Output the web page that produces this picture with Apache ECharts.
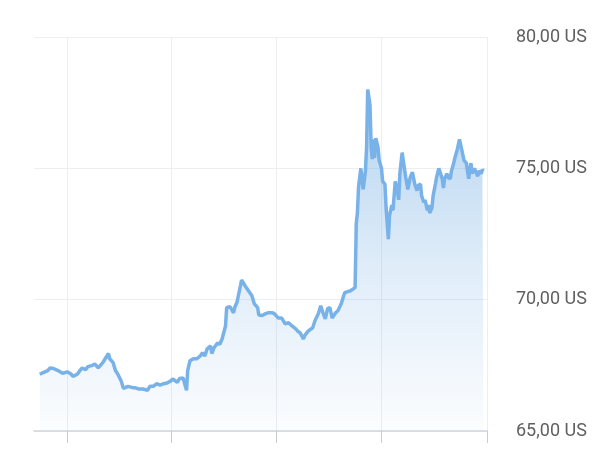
<!DOCTYPE html>
<html>
<head>
<meta charset="utf-8">
<script src="https://cdn.jsdelivr.net/npm/echarts@6/dist/echarts.min.js"></script>
<style>html,body{margin:0;padding:0;background:#fff}#c{width:600px;height:450px}</style>
</head>
<body>
<div id="c"></div>
<script>
const dates = [
'2023-12-08','2023-12-11','2023-12-15','2023-12-17','2023-12-20','2023-12-23','2023-12-26','2023-12-28',
'2024-01-01','2024-01-04','2024-01-06','2024-01-10','2024-01-12','2024-01-14','2024-01-17','2024-01-19','2024-01-23','2024-01-25','2024-01-28',
'2024-02-01','2024-02-03','2024-02-06','2024-02-07','2024-02-10','2024-02-12','2024-02-14','2024-02-17','2024-02-19','2024-02-20','2024-02-23','2024-02-27','2024-02-29',
'2024-03-03','2024-03-07','2024-03-11','2024-03-13','2024-03-16','2024-03-19','2024-03-22','2024-03-25','2024-03-28','2024-03-31',
'2024-04-02','2024-04-06','2024-04-08','2024-04-11','2024-04-14','2024-04-15','2024-04-17','2024-04-20','2024-04-23','2024-04-26','2024-04-28','2024-04-30',
'2024-05-02','2024-05-05','2024-05-06','2024-05-08','2024-05-11','2024-05-13','2024-05-15','2024-05-18','2024-05-19','2024-05-22','2024-05-25','2024-05-26','2024-05-28','2024-05-31',
'2024-06-01','2024-06-04','2024-06-07','2024-06-10','2024-06-12','2024-06-15','2024-06-16','2024-06-19','2024-06-22','2024-06-24','2024-06-28','2024-06-30',
'2024-07-03','2024-07-06','2024-07-09','2024-07-12','2024-07-15','2024-07-18','2024-07-20','2024-07-22','2024-07-25','2024-07-26','2024-07-29',
'2024-08-02','2024-08-04','2024-08-07','2024-08-09','2024-08-11','2024-08-13','2024-08-15','2024-08-17','2024-08-19','2024-08-22','2024-08-24','2024-08-27','2024-08-29','2024-08-30',
'2024-09-04','2024-09-08','2024-09-09','2024-09-10','2024-09-11','2024-09-13','2024-09-15','2024-09-17','2024-09-18','2024-09-19','2024-09-21','2024-09-22','2024-09-23','2024-09-24','2024-09-25','2024-09-26','2024-09-28','2024-09-29',
'2024-10-01','2024-10-02','2024-10-04','2024-10-05','2024-10-07','2024-10-08','2024-10-10','2024-10-11','2024-10-13','2024-10-15','2024-10-16','2024-10-17','2024-10-19','2024-10-20','2024-10-22','2024-10-23','2024-10-24','2024-10-26','2024-10-28','2024-10-29','2024-10-30',
'2024-11-01','2024-11-02','2024-11-04','2024-11-05','2024-11-07','2024-11-08','2024-11-10','2024-11-11','2024-11-12','2024-11-14','2024-11-15','2024-11-17','2024-11-18','2024-11-20','2024-11-21','2024-11-23','2024-11-24','2024-11-25','2024-11-27','2024-11-28','2024-11-30',
'2024-12-01','2024-12-03','2024-12-04','2024-12-06','2024-12-08','2024-12-09','2024-12-11','2024-12-12','2024-12-14','2024-12-15','2024-12-16','2024-12-18','2024-12-19','2024-12-21','2024-12-22','2024-12-24','2024-12-25','2024-12-27','2024-12-28','2024-12-29'
];
const prices = [
67.16,67.22,67.30,67.40,67.38,67.32,67.25,67.20,
67.25,67.18,67.08,67.17,67.30,67.40,67.33,67.45,67.50,67.55,67.40,
67.60,67.75,67.95,67.75,67.60,67.30,67.17,66.90,66.62,66.60,66.70,66.65,66.65,
66.60,66.60,66.55,66.70,66.70,66.80,66.75,66.80,66.83,66.90,
66.98,66.85,67.00,67.02,66.55,67.30,67.67,67.75,67.75,67.86,67.98,67.86,
68.13,68.24,67.95,68.17,68.35,68.30,68.50,69.00,69.70,69.73,69.50,69.70,69.90,70.53,
70.75,70.53,70.34,70.15,69.85,69.70,69.42,69.40,69.47,69.50,69.50,69.45,
69.30,69.30,69.08,69.12,69.00,68.90,68.80,68.74,68.50,68.63,68.80,
68.93,69.20,69.47,69.77,69.50,69.27,69.66,69.70,69.30,69.50,69.58,69.85,70.15,70.27,
70.34,70.46,72.90,73.30,74.30,75.00,74.20,74.90,75.80,78.00,77.40,75.80,75.35,76.10,75.40,76.15,75.80,75.30,
75.00,74.50,74.40,73.50,72.30,73.20,73.60,73.40,74.50,74.10,73.80,74.80,75.60,75.30,74.70,74.65,74.20,74.65,74.85,74.80,74.40,
74.15,74.35,74.40,73.95,73.70,73.80,73.40,73.60,73.30,73.50,73.95,74.40,74.65,75.00,75.00,74.60,74.25,74.60,74.80,74.65,74.60,
74.90,75.20,75.40,75.70,76.10,75.90,75.50,75.30,75.20,74.90,74.60,75.20,74.80,75.00,74.90,74.70,74.90,74.80,74.95,74.90
];
const yTicks = [65, 70, 75, 80];
const xTickDates = ['2024-01-01','2024-04-01','2024-07-01','2024-10-01','2025-01-01'];

const chart = echarts.init(document.getElementById('c'), null, {renderer: 'canvas'});
chart.setOption({
  animation: false,
  backgroundColor: '#ffffff',
  grid: {left: 34, right: 113, top: 37, bottom: 19, containLabel: false},
  xAxis: {
    type: 'time',
    min: '2023-12-03',
    max: '2025-01-01',
    axisLine: {show: true, lineStyle: {color: '#cfd6de', width: 1.5}},
    axisTick: {show: true, length: 12, customValues: xTickDates.map(d => +new Date(d)), lineStyle: {color: '#c8cdd3', width: 1}},
    axisLabel: {show: false},
    splitLine: {show: true, lineStyle: {color: '#eceef1', width: 1}}
  },
  yAxis: {
    type: 'value',
    position: 'right',
    min: 65, max: 80, interval: 5,
    axisLine: {show: false},
    axisTick: {show: false},
    splitLine: {show: true, lineStyle: {color: '#eceef1', width: 1}},
    axisLabel: {
      margin: 29,
      color: '#606060',
      fontSize: 18,
      fontFamily: 'Roboto',
      formatter: v => yTicks.includes(v) ? v.toFixed(2).replace('.', ',') + ' US' : ''
    }
  },
  series: [{
    type: 'line',
    data: dates.map((d, i) => [d, prices[i]]),
    showSymbol: false,
    symbol: 'none',
    lineStyle: {color: '#78b2e8', width: 3.5},
    itemStyle: {color: '#78b2e8'},
    areaStyle: {
      color: new echarts.graphic.LinearGradient(0, 0, 0, 1, [
        {offset: 0, color: 'rgba(120,176,228,0.8)'},
        {offset: 0.5, color: 'rgba(120,176,228,0.35)'},
        {offset: 1, color: 'rgba(120,176,228,0.04)'}
      ])
    }
  }]
});
</script>
</body>
</html>
